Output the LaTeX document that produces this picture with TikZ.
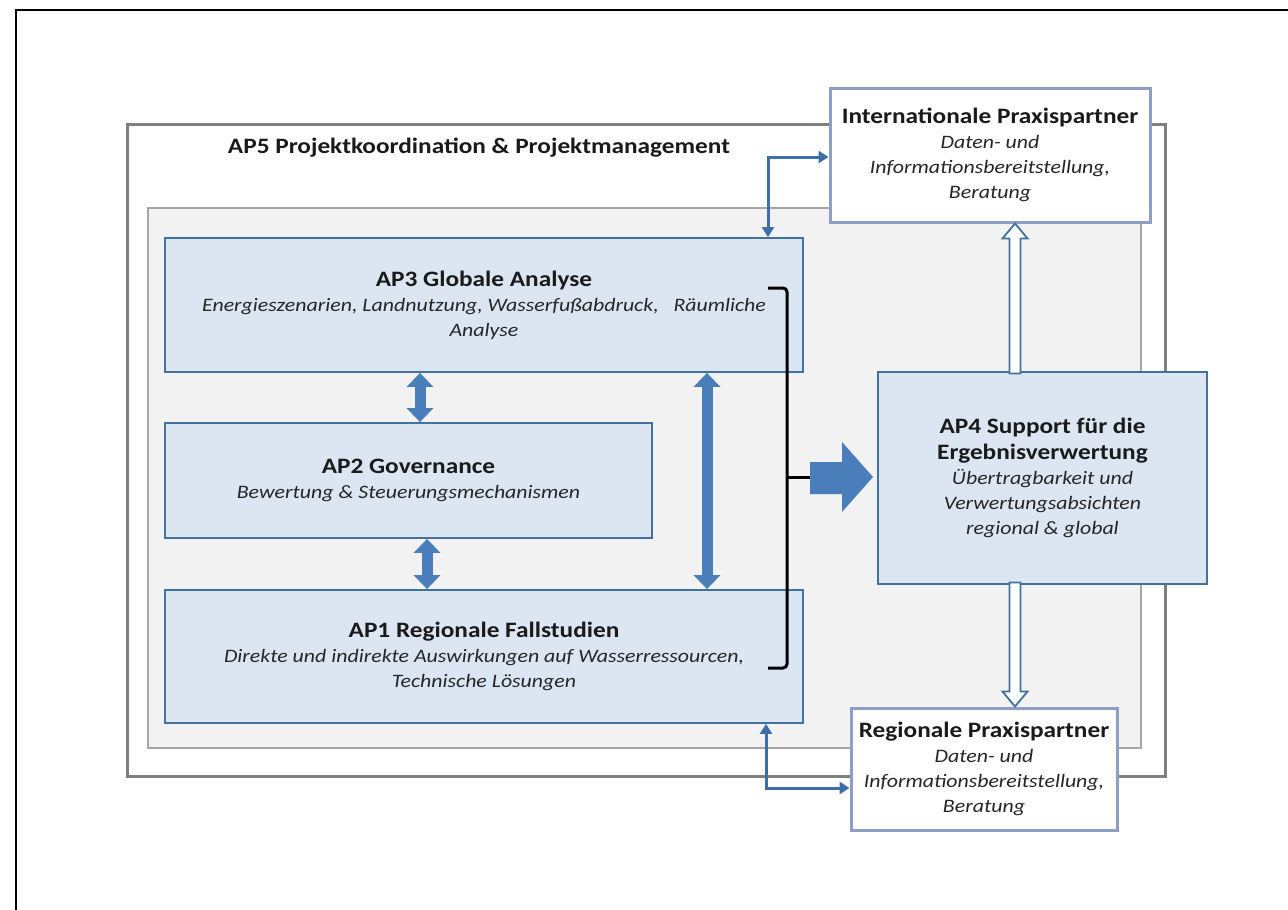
\documentclass[tikz,border=0pt]{standalone}
\usepackage{fontspec}
\setmainfont{Carlito}[FakeStretch=1.15]
\usetikzlibrary{arrows.meta,calc}
\definecolor{boxfill}{HTML}{DCE6F2}
\definecolor{boxline}{HTML}{41719C}
\definecolor{arrowblue}{HTML}{4A7EBB}
\definecolor{connblue}{HTML}{3E6EA8}
\definecolor{partnerline}{HTML}{8E9FC6}
\definecolor{apgray}{HTML}{7F7F7F}
\definecolor{innerline}{HTML}{A6A6A6}
\definecolor{innerfill}{HTML}{F2F2F2}
\definecolor{txt}{HTML}{1A1A1A}
\definecolor{itxt}{HTML}{262626}
\newcommand\ttl[1]{{\fontsize{22}{28}\selectfont\bfseries\upshape\color{txt}#1}}
\tikzset{
  apbox/.style={draw=boxline, line width=1.8pt, fill=boxfill, inner sep=0pt, align=center,
    font=\fontsize{19}{25}\selectfont\itshape, text=itxt},
  partner/.style={draw=partnerline, line width=3pt, fill=white, inner sep=0pt, align=center,
    font=\fontsize{19}{25}\selectfont\itshape, text=itxt},
  thickarrow/.style={draw=arrowblue, line width=11pt,
    {Triangle[width=26pt,length=14pt]}-{Triangle[width=26pt,length=14pt]}},
  thinconn/.style={draw=connblue, line width=3pt,
    {Triangle[width=12pt,length=10pt]}-{Triangle[width=12pt,length=10pt]}},
  hollow/.style={draw=boxline, line width=1.8pt, fill=white, line join=miter},
  bracketline/.style={draw=black, line width=3pt, rounded corners=4pt},
}
\begin{document}
\begin{tikzpicture}[x=1pt,y=-1pt]
\useasboundingbox (0,0) rectangle (1288,910);
% outer page frame
\draw[black, line width=2.5pt] (16,930) -- (16,10) -- (1300,10);
% AP5 frame and inner area
\node[draw=apgray, line width=3pt, minimum width=1038pt, minimum height=652pt, inner sep=0pt] (ap5) at (646,450) {};
\node[draw=innerline, fill=innerfill, line width=2pt, minimum width=993pt, minimum height=540pt, inner sep=0pt] (inner) at (644.5,478) {};
\node[font=\fontsize{22}{28}\selectfont\bfseries, text=txt] (ap5title) at (479,148) {AP5 Projektkoordination \& Projektmanagement};
% work packages
\node[apbox, minimum width=638pt, minimum height=134pt] (ap3) at (484,305)
  {\ttl{AP3 Globale Analyse}\\Energieszenarien, Landnutzung, Wasserfußabdruck,\ \ \ Räumliche\\Analyse};
\node[apbox, minimum width=487pt, minimum height=115pt] (ap2) at (408.5,480.5)
  {\ttl{AP2 Governance}\\Bewertung \& Steuerungsmechanismen};
\node[apbox, minimum width=638pt, minimum height=133pt] (ap1) at (484,656.5)
  {\ttl{AP1 Regionale Fallstudien}\\Direkte und indirekte Auswirkungen auf Wasserressourcen,\\Technische Lösungen};
\node[apbox, minimum width=329pt, minimum height=212pt] (ap4) at (1042.5,478)
  {\ttl{AP4 Support für die}\\[1pt]\ttl{Ergebnisverwertung}\\Übertragbarkeit und\\Verwertungsabsichten\\regional \& global};
% partners
\node[partner, minimum width=320pt, minimum height=134pt] (intl) at (990,155)
  {\ttl{Internationale Praxispartner}\\Daten- und\\Informationsbereitstellung,\\Beratung};
\node[partner, minimum width=266pt, minimum height=122pt] (reg) at (984,769)
  {\ttl{Regionale Praxispartner}\\Daten- und\\Informationsbereitstellung,\\Beratung};
% helper x positions
\coordinate (xa) at (420,0);
\coordinate (xb) at (427,0);
\coordinate (xc) at (707,0);
\coordinate (xd) at (768,0);
\coordinate (xe) at (766,0);
\coordinate (xh) at (1015,0);
% thick double arrows
\draw[thickarrow] (ap3.south -| xa) -- (ap2.north -| xa);
\draw[thickarrow] (ap2.south -| xb) -- (ap1.north -| xb);
\draw[thickarrow] (ap3.south -| xc) -- (ap1.north -| xc);
% thin connectors to partners
\draw[thinconn] (ap3.north -| xd) |- ([yshift=-2pt]intl.west);
\coordinate (regin) at ([yshift=-19pt]reg.west);
\draw[thinconn] (ap1.south -| xe) |- (regin);
% hollow arrows AP4 -> partners
\coordinate (htop) at (intl.south -| xh);
\draw[hollow, shift={(htop)}] (0,0) -- (12.5,15) -- (5.5,15) -- (5.5,150) -- (-5.5,150) -- (-5.5,15) -- (-12.5,15) -- cycle;
\coordinate (hbot) at (reg.north -| xh);
\draw[hollow, shift={(hbot)}] (0,0) -- (12.5,-15) -- (5.5,-15) -- (5.5,-124) -- (-5.5,-124) -- (-5.5,-15) -- (-12.5,-15) -- cycle;
% bracket and big arrow
\coordinate (brt) at (768,288);
\coordinate (brb) at (768,668);
\coordinate (brm) at (787,477);
\coordinate (bre) at (810,477);
\draw[bracketline] (brt) -- (787,288) -- (787,668) -- (brb);
\draw[draw=black, line width=3pt] (brm) -- (bre);
\fill[arrowblue, shift={(bre)}] (0,-15) -- (32,-15) -- (32,-35) -- (63,0) -- (32,35) -- (32,17) -- (0,17) -- cycle;
\end{tikzpicture}
\end{document}
